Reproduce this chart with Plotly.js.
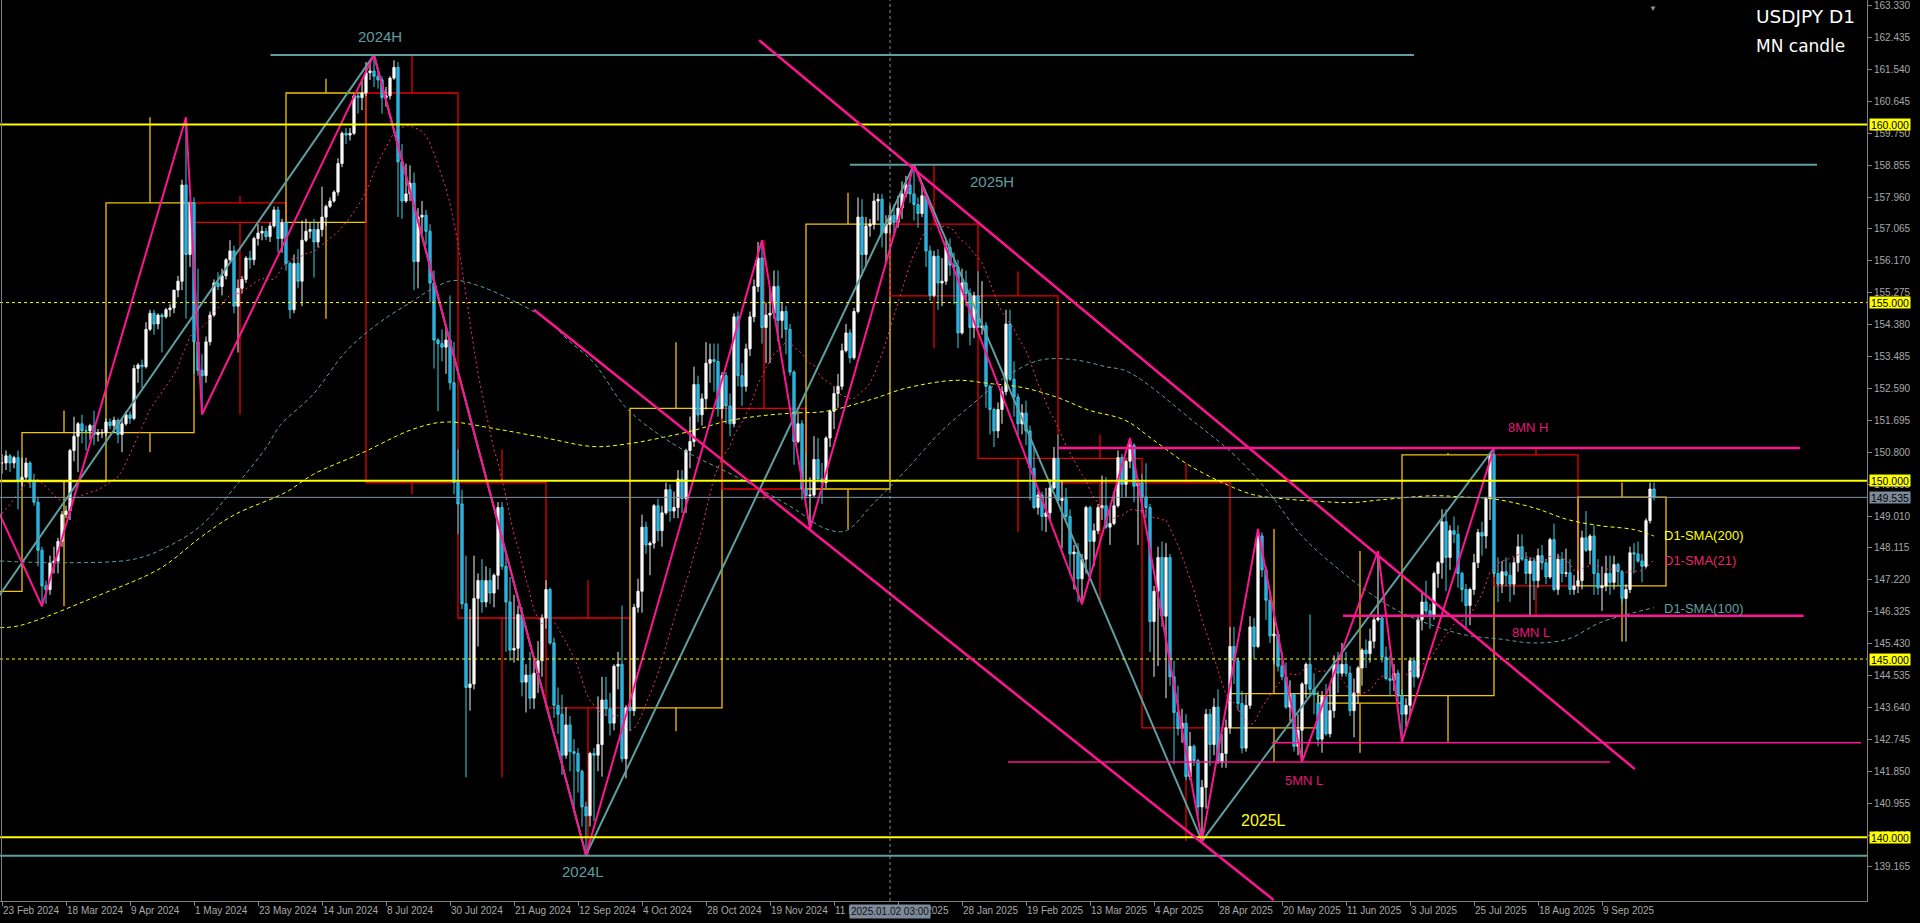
<!DOCTYPE html>
<html><head><meta charset="utf-8">
<script src="https://cdn.plot.ly/plotly-3.0.1.min.js"></script>
<style>html,body{margin:0;padding:0;background:#000;overflow:hidden}#chart{width:1920px;height:923px}</style>
</head><body><div id="chart"></div>
<script>
// ---------- calendar ----------
const firstDate = '2024-02-23';
const lastDate = '2025-09-26';
const holidays = ['2024-12-25', '2025-01-01'];

// ---------- daily USDJPY (one line per week) ----------
const open = [
150.50,
150.50,150.70,150.50,150.65,149.98,
150.10,150.50,150.00,149.40,148.05,
147.05,146.95,147.70,147.75,148.30,
149.05,149.15,150.85,151.25,151.60,
151.40,151.40,151.55,151.30,151.35,
151.35,151.65,151.55,151.70,151.30,
151.60,151.85,151.75,153.15,153.25,
153.20,154.25,154.70,154.40,154.65,
154.60,154.80,154.85,155.35,155.60,
158.30,156.35,157.80,153.90,153.10,
152.95,153.90,154.65,155.55,155.45,
155.75,156.20,156.45,154.90,155.40,
155.65,156.25,156.20,156.80,156.95,
157.00,156.85,157.15,157.60,156.80,
157.25,156.10,154.80,156.10,155.60,
156.75,157.00,157.05,156.70,157.05,
157.40,157.70,157.85,158.10,158.90,
159.75,159.70,159.75,160.80,160.75,
160.88,161.45,161.50,161.35,161.25,
160.75,160.80,161.30,161.60,158.95,
157.85,158.05,158.35,156.15,157.40,
157.45,157.00,155.55,153.95,153.85,
153.75,153.95,152.75,149.95,149.35,
146.55,144.20,144.30,146.70,147.20,
146.60,147.20,146.85,147.35,149.25,
147.60,146.60,145.25,145.30,146.25,
144.35,144.55,143.90,144.60,144.95,
146.15,146.95,145.45,143.70,143.45,
142.30,143.15,142.40,142.35,141.85,
140.85,140.60,142.35,142.30,142.60,
143.85,143.60,143.20,144.80,144.85,
142.20,143.63,143.55,146.45,146.90,
148.70,148.20,148.25,149.30,148.60,
149.10,149.75,149.15,149.25,150.05,
149.50,150.85,151.10,152.70,151.85,
152.30,153.30,153.40,153.35,152.03,
152.95,152.10,151.60,154.60,152.95,
152.65,153.70,154.60,155.45,156.25,
154.30,154.65,154.70,155.45,154.50,
154.75,154.25,153.05,151.10,151.60,
149.77,149.58,149.60,150.60,150.05,
149.95,151.20,151.95,152.45,152.65,
153.65,154.15,153.45,154.75,157.40,
156.35,157.15,157.20,157.85,
157.90,156.95,157.20,157.45,
157.25,157.65,158.05,158.30,158.05,
157.75,157.50,158.00,156.45,155.20,
156.30,155.55,155.60,156.55,156.05,
156.00,154.15,155.55,155.25,154.30,
155.19,154.30,154.35,152.65,152.00,
151.40,152.00,152.50,154.40,152.85,
152.35,151.60,151.90,151.40,150.35,
149.25,149.60,149.00,149.10,149.80,
150.63,149.45,149.50,149.00,147.95,
148.00,147.25,147.80,149.25,148.30,
148.60,149.25,149.30,148.70,148.80,
149.30,150.65,149.90,150.55,151.00,
149.85,149.94,149.55,149.25,146.05,
146.90,147.85,146.20,147.85,144.50,
143.50,143.05,143.20,141.70,142.55,
142.15,140.85,141.40,143.45,142.60,
143.65,142.10,142.35,143.07,145.35,
144.95,143.75,142.50,143.70,145.90,
145.35,148.45,147.50,146.65,145.65,
145.70,144.80,144.50,143.65,144.00,
142.55,143.00,144.30,144.85,144.15,
143.76,142.75,143.95,142.90,143.55,
144.85,144.60,144.85,144.60,143.55,
144.05,144.75,145.25,145.15,145.50,
146.10,146.15,145.05,144.45,144.40,
144.60,143.97,143.45,143.70,144.95,
144.50,146.10,146.60,146.35,146.20,
147.40,147.70,148.85,147.85,148.60,
148.50,147.40,146.95,146.50,146.95,
147.70,148.55,148.45,149.50,150.73,
147.40,147.10,147.45,147.35,147.10,
147.70,148.15,147.80,147.40,147.75,
147.20,147.90,147.70,147.30,148.35,
146.95,147.80,147.40,147.42,146.95,
147.05,147.20,148.40,148.05,148.45,
147.40,147.00,147.05,147.40,147.15,
147.65,147.45,146.70,146.95,147.98,
147.95,147.75,147.60,148.88,149.77
];
const high = [
150.75,
150.85,150.75,150.70,150.85,150.65,
150.65,150.55,150.20,149.55,148.15,
147.20,147.90,148.15,148.40,149.15,
149.30,150.90,151.80,151.65,151.85,
151.55,151.60,151.97,151.45,151.45,
151.75,151.75,151.80,151.75,151.75,
151.95,151.95,153.25,153.30,153.40,
154.45,154.80,154.80,154.70,154.70,
154.85,154.95,155.35,155.75,158.45,
160.20,157.85,157.95,155.95,153.55,
154.05,154.75,155.65,155.85,155.95,
156.25,156.75,156.60,155.65,155.75,
156.30,156.45,156.85,157.20,157.15,
157.10,157.25,157.70,157.70,157.35,
157.30,156.15,156.35,156.50,157.30,
157.35,157.25,157.35,157.25,158.25,
157.75,157.95,158.15,159.05,159.80,
159.90,159.90,160.85,160.85,161.28,
161.75,161.75,161.95,161.50,161.35,
161.05,161.35,161.80,161.75,159.45,
158.90,158.85,158.65,157.65,157.85,
157.60,157.20,155.90,154.00,154.25,
154.30,155.20,153.90,150.88,149.75,
147.90,146.40,147.90,147.40,147.80,
147.60,147.55,147.40,149.40,149.40,
147.95,147.30,146.80,146.50,146.45,
144.85,145.20,145.00,145.50,146.25,
147.21,147.00,145.60,144.20,144.00,
143.65,143.40,142.75,142.50,141.90,
141.00,142.40,142.50,143.95,144.50,
144.50,144.05,144.85,145.20,146.50,
143.70,144.00,146.55,147.25,149.05,
148.85,148.30,149.35,149.50,149.30,
149.95,149.90,149.70,150.30,150.30,
150.90,151.80,153.20,152.95,152.45,
153.89,153.85,153.85,153.85,153.05,
153.05,152.45,154.70,154.75,153.30,
153.85,154.75,155.65,156.70,156.75,
155.00,155.40,155.90,155.90,155.00,
154.90,154.40,153.10,151.95,151.70,
150.75,150.10,151.25,151.20,150.50,
151.25,152.00,152.65,153.00,153.85,
154.40,154.25,154.85,157.95,157.90,
157.40,157.35,158.08,158.05,
158.05,157.45,157.75,157.75,
158.00,158.40,158.55,158.50,158.87,
157.95,158.35,158.10,156.60,156.45,
156.50,156.25,156.75,156.80,156.40,
156.20,155.95,155.90,155.40,155.30,
155.88,155.60,154.45,152.70,152.05,
152.20,152.65,154.80,154.80,153.35,
152.45,152.15,152.25,151.55,150.95,
149.70,149.70,149.80,150.05,150.95,
151.30,150.00,149.80,149.20,148.20,
148.25,147.95,149.30,149.30,148.80,
149.35,150.15,150.10,149.20,149.70,
150.85,150.75,150.60,151.20,151.05,
150.05,150.20,150.49,149.35,147.05,
148.15,148.30,148.25,147.95,144.95,
144.25,143.60,143.45,142.95,142.60,
142.20,141.60,143.60,143.60,143.90,
144.15,142.90,143.30,145.90,145.90,
145.05,144.10,144.00,146.20,146.15,
148.65,148.55,147.60,146.90,146.20,
145.80,145.20,144.90,144.40,144.05,
143.45,144.35,144.90,146.25,144.60,
144.10,144.10,144.30,144.25,145.10,
145.20,145.45,145.20,144.80,144.45,
144.80,145.30,145.55,145.85,146.25,
148.03,146.20,145.35,145.10,144.85,
144.70,144.15,143.90,145.05,145.05,
146.20,146.85,147.20,146.55,147.45,
147.75,149.20,149.20,148.75,149.00,
148.75,147.45,147.10,147.00,147.95,
148.65,148.85,149.55,150.78,150.92,
147.85,147.75,147.85,147.70,147.85,
148.50,148.50,148.00,147.85,147.85,
148.10,148.20,147.80,148.40,148.80,
147.95,148.00,148.10,147.80,147.35,
147.50,148.60,149.15,148.50,148.75,
147.80,147.60,147.90,147.90,147.90,
147.70,147.50,147.10,148.15,148.25,
148.30,147.95,148.95,149.95,149.95
];
const low = [
150.20,
150.30,150.25,150.35,149.20,149.85,
150.00,149.80,149.30,147.60,146.48,
146.55,146.80,147.40,147.40,148.15,
148.95,148.90,150.55,150.25,151.05,
150.85,151.15,151.00,151.10,151.20,
151.25,151.45,151.35,151.05,150.80,
151.55,151.60,151.70,152.75,152.60,
153.15,154.20,154.10,154.25,153.60,
154.55,154.60,154.70,155.15,155.35,
154.55,156.00,153.00,152.95,151.86,
152.75,153.80,154.60,155.35,155.20,
155.65,156.15,154.70,153.60,155.25,
155.55,155.95,156.05,156.60,156.75,
156.75,156.70,157.10,156.40,156.40,
155.90,154.55,154.70,155.40,154.90,
156.70,156.80,155.70,156.55,156.85,
157.15,157.65,157.80,158.00,158.80,
159.45,159.55,159.70,160.30,160.40,
160.80,161.25,161.05,161.00,160.30,
160.50,160.70,161.25,157.40,157.35,
157.80,157.85,155.35,155.40,156.95,
156.60,155.00,153.15,151.95,153.35,
153.00,152.55,149.62,148.50,146.40,
141.68,143.55,144.15,145.35,146.30,
146.45,146.55,146.45,146.95,147.50,
145.20,144.95,144.90,144.95,143.95,
143.50,143.60,143.60,144.05,144.50,
145.85,145.40,143.35,142.90,141.75,
142.20,141.85,140.70,141.25,140.30,
139.50,140.30,140.45,141.85,141.70,
143.40,142.85,143.00,144.15,142.10,
141.65,142.97,143.40,146.30,146.30,
147.95,147.35,148.10,148.30,148.15,
149.05,148.85,148.95,148.95,149.10,
149.10,150.35,150.95,151.65,151.55,
152.00,152.75,152.50,151.80,151.75,
151.60,151.25,151.50,152.65,152.10,
152.50,153.50,154.45,155.30,153.85,
153.30,153.30,154.55,153.90,154.00,
153.55,152.95,150.45,151.05,149.47,
149.50,148.65,149.55,149.95,149.35,
149.80,150.95,151.45,152.05,152.55,
153.60,153.30,153.40,154.70,155.75,
156.05,156.85,157.05,157.30,
156.55,156.15,156.95,156.95,
157.10,157.35,157.95,157.80,157.30,
157.10,157.40,156.00,155.05,155.15,
154.80,154.90,155.50,155.75,154.95,
153.72,154.10,154.90,153.80,154.00,
154.55,154.10,152.05,151.30,150.95,
151.20,151.60,152.40,152.80,151.80,
151.25,151.30,151.00,149.45,149.20,
149.05,148.60,148.56,148.90,149.75,
149.40,148.10,148.90,147.35,146.95,
146.60,146.54,147.40,147.40,147.60,
148.50,148.90,148.65,148.20,148.75,
149.25,149.55,149.55,150.35,149.40,
148.20,149.10,148.95,145.20,144.50,
144.80,145.90,143.90,144.25,142.05,
142.85,142.65,141.60,141.60,142.00,
140.60,139.89,140.80,142.00,142.30,
142.05,141.95,141.95,142.90,144.30,
143.55,142.35,142.40,143.60,145.00,
145.30,147.30,146.10,145.45,144.85,
144.65,144.40,143.60,143.25,142.40,
142.30,142.11,143.90,143.95,143.45,
142.55,142.37,142.85,142.80,143.35,
144.05,144.50,144.50,143.40,142.80,
143.75,144.25,144.75,144.90,145.30,
146.05,144.90,144.40,143.95,144.10,
143.75,142.68,143.10,143.40,144.20,
144.45,145.80,146.25,145.85,146.10,
147.00,147.25,146.90,147.50,148.25,
147.00,146.60,145.85,145.95,146.80,
147.55,147.90,148.10,148.90,147.30,
146.60,146.85,147.05,146.60,146.80,
147.45,147.75,147.10,146.21,146.65,
147.00,147.50,147.10,147.25,146.90,
146.80,147.15,147.30,146.80,146.80,
146.85,146.95,148.00,147.65,146.80,
146.80,146.35,146.90,146.80,146.95,
147.05,146.55,145.49,146.85,147.40,
147.70,147.15,147.55,148.80,149.45
];
const close = [
150.50,
150.70,150.50,150.65,149.98,150.10,
150.50,150.00,149.40,148.05,147.05,
146.95,147.70,147.75,148.30,149.05,
149.15,150.85,151.25,151.60,151.40,
151.40,151.55,151.30,151.35,151.35,
151.65,151.55,151.70,151.30,151.60,
151.85,151.75,153.15,153.25,153.20,
154.25,154.70,154.40,154.65,154.60,
154.80,154.85,155.35,155.60,158.30,
156.35,157.80,153.90,153.10,152.95,
153.90,154.65,155.55,155.45,155.75,
156.20,156.45,154.90,155.40,155.65,
156.25,156.20,156.80,156.95,157.00,
156.85,157.15,157.60,156.80,157.25,
156.10,154.80,156.10,155.60,156.75,
157.00,157.05,156.70,157.05,157.40,
157.70,157.85,158.10,158.90,159.75,
159.70,159.75,160.80,160.75,160.88,
161.45,161.50,161.35,161.25,160.75,
160.80,161.30,161.60,158.95,157.85,
158.05,158.35,156.15,157.40,157.45,
157.00,155.55,153.95,153.85,153.75,
153.95,152.75,149.95,149.35,146.55,
144.20,144.30,146.70,147.20,146.60,
147.20,146.85,147.35,149.25,147.60,
146.60,145.25,145.30,146.25,144.35,
144.55,143.90,144.60,144.95,146.15,
146.95,145.45,143.70,143.45,142.30,
143.15,142.40,142.35,141.85,140.85,
140.60,142.35,142.30,142.60,143.85,
143.60,143.20,144.80,144.85,142.20,
143.63,143.55,146.45,146.90,148.70,
148.20,148.25,149.30,148.60,149.10,
149.75,149.15,149.25,150.05,149.50,
150.85,151.10,152.70,151.85,152.30,
153.30,153.40,153.35,152.03,152.95,
152.10,151.60,154.60,152.95,152.65,
153.70,154.60,155.45,156.25,154.30,
154.65,154.70,155.45,154.50,154.75,
154.25,153.05,151.10,151.60,149.77,
149.58,149.60,150.60,150.05,149.95,
151.20,151.95,152.45,152.65,153.65,
154.15,153.45,154.75,157.40,156.35,
157.15,157.20,157.85,157.90,
156.95,157.20,157.45,157.25,
157.65,158.05,158.30,158.05,157.75,
157.50,158.00,156.45,155.20,156.30,
155.55,155.60,156.55,156.05,156.00,
154.15,155.55,155.25,154.30,155.19,
154.30,154.35,152.65,152.00,151.40,
152.00,152.50,154.40,152.85,152.35,
151.60,151.90,151.40,150.35,149.25,
149.60,149.00,149.10,149.80,150.63,
149.45,149.50,149.00,147.95,148.00,
147.25,147.80,149.25,148.30,148.60,
149.25,149.30,148.70,148.80,149.30,
150.65,149.90,150.55,151.00,149.85,
149.94,149.55,149.25,146.05,146.90,
147.85,146.20,147.85,144.50,143.50,
143.05,143.20,141.70,142.55,142.15,
140.85,141.40,143.45,142.60,143.65,
142.10,142.35,143.07,145.35,144.95,
143.75,142.50,143.70,145.90,145.35,
148.45,147.50,146.65,145.65,145.70,
144.80,144.50,143.65,144.00,142.55,
143.00,144.30,144.85,144.15,144.00,
142.75,143.95,142.90,143.55,144.85,
144.60,144.85,144.60,143.55,144.05,
144.75,145.25,145.15,145.50,146.10,
146.15,145.05,144.45,144.40,144.60,
143.97,143.45,143.70,144.95,144.50,
146.10,146.60,146.35,146.20,147.40,
147.70,148.85,147.85,148.60,148.50,
147.40,146.95,146.50,146.95,147.70,
148.55,148.45,149.50,150.73,147.40,
147.10,147.45,147.35,147.10,147.70,
148.15,147.80,147.40,147.75,147.20,
147.90,147.70,147.30,148.35,146.95,
147.80,147.40,147.42,146.95,147.05,
147.20,148.40,148.05,148.45,147.40,
147.00,147.05,147.40,147.15,147.65,
147.45,146.70,146.95,147.98,147.95,
147.75,147.60,148.88,149.77,149.54
];
// 20 closes before the first visible bar (for SMA21)
const closeBefore = [148.15,147.55,147.60,146.90,146.45,148.35,148.70,148.15,148.10,149.30,
                     149.30,149.35,150.80,150.55,149.95,150.20,150.05,150.00,150.30,150.50];

// ---------- monthly candles (MN candle) ----------
const mnMonth = ['2024-02','2024-03','2024-04','2024-05','2024-06','2024-07','2024-08','2024-09','2024-10','2024-11',
                 '2024-12','2025-01','2025-02','2025-03','2025-04','2025-05','2025-06','2025-07','2025-08','2025-09'];
const mnOpen  = [146.90,149.98,151.35,157.80,157.25,160.88,149.95,146.15,143.63,152.03,149.77,157.20,155.19,150.63,149.94,143.07,143.76,143.97,150.73,147.05];
const mnHigh  = [150.89,151.97,160.20,157.99,161.28,161.95,150.88,147.21,153.89,156.75,158.08,158.87,155.88,151.30,150.49,148.65,148.03,150.78,150.92,149.95];
const mnLow   = [145.90,146.48,150.80,151.86,154.55,149.62,141.68,139.50,142.97,149.47,148.65,153.72,148.56,146.54,139.89,142.11,142.37,142.68,146.21,145.49];
const mnClose = [149.98,151.35,157.80,157.25,160.88,149.95,146.15,143.63,152.03,149.77,157.20,155.19,150.63,149.94,143.07,144.03,143.97,150.73,147.05,149.54];

// ---------- zigzags (date, price) ----------
const pinkZigDate  = ['2024-02-13','2024-03-08','2024-04-29','2024-05-03','2024-07-03','2024-09-16','2024-11-15','2024-12-03',
                      '2025-01-10','2025-03-11','2025-03-27','2025-04-22','2025-05-12','2025-05-27','2025-06-23','2025-07-01','2025-08-01'];
const pinkZigPrice = [150.88,146.48,160.20,151.86,161.95,139.50,156.75,148.65,158.87,146.54,151.20,139.89,148.65,142.11,148.03,142.68,150.92];
const cyanZigDate  = ['2023-12-28','2024-07-03','2024-09-16','2025-01-10','2025-04-22','2025-08-01'];
const cyanZigPrice = [140.25,161.95,139.50,158.87,139.89,150.92];

// ---------- moving averages (bar index, price) ----------
const sma200Idx = [-0.5,4.5,24.5,39.5,49.5,58,71,77.8,90,102.8,111,123.8,136,147.8,156,164.5,172.8,181,189.5,197.8,206,217.8,226,238.5,246.8,255,263.3,271.8,280.8,287.8,296,304.5,312.8,321,329.5,337.8,345,358,366,373,383,391.5,399.5,408,413];
const sma200Val = [145.88,145.94,146.8,147.54,148.4,149.04,149.68,150.18,150.78,151.45,151.65,151.45,151.2,150.96,151.03,151.2,151.41,151.67,151.82,151.9,151.95,152.3,152.6,152.82,152.73,152.62,152.36,151.98,151.7,151.15,150.49,149.98,149.61,149.49,149.42,149.39,149.47,149.58,149.54,149.49,149.24,148.91,148.74,148.63,148.45];
const sma100Idx = [-0.5,16,33,41,49.5,58,66.2,69.5,77.8,86,94.5,102.8,107,112.8,119.5,127.8,136,142,147.8,156,164.5,172.8,181,189.5,197.8,206,211,217.8,226,234.3,242.8,251,259.3,267.8,276,281.5,298.5,308.5,316.8,325,333.3,341.8,349.5,358,366,374.5,383,391.5,399.5,408,413];
const sma100Val = [147.75,147.7,147.8,148.13,148.72,149.79,150.96,151.55,152.43,153.63,154.45,155.05,155.35,155.62,155.46,155.05,154.53,153.9,153.33,152.05,151.28,150.71,150.26,149.77,149.23,148.65,148.6,149.36,150.3,151.33,152.17,152.92,153.38,153.4,153.2,153.06,151.61,150.68,149.66,148.45,147.6,146.86,146.32,145.93,145.67,145.56,145.45,145.56,146.02,146.3,146.44];

// ---------- axis labels ----------
const tickDates = ['2024-02-23','2024-03-18','2024-04-09','2024-05-01','2024-05-23','2024-06-14','2024-07-08','2024-07-30','2024-08-21','2024-09-12',
                   '2024-10-04','2024-10-28','2024-11-19','2024-12-11','2025-01-06','2025-01-28','2025-02-19','2025-03-13','2025-04-04','2025-04-28',
                   '2025-05-20','2025-06-11','2025-07-03','2025-07-25','2025-08-18','2025-09-09'];
const tickLabels = ['23 Feb 2024','18 Mar 2024','9 Apr 2024','1 May 2024','23 May 2024','14 Jun 2024','8 Jul 2024','30 Jul 2024','21 Aug 2024','12 Sep 2024',
                    '4 Oct 2024','28 Oct 2024','19 Nov 2024','11 Dec 2024','6 Jan 2025','28 Jan 2025','19 Feb 2025','13 Mar 2025','4 Apr 2025','28 Apr 2025',
                    '20 May 2025','11 Jun 2025','3 Jul 2025','25 Jul 2025','18 Aug 2025','9 Sep 2025'];
const priceTicks = [139.165,140.060,140.955,141.850,142.745,143.640,144.535,145.430,146.325,147.220,148.115,149.010,149.905,150.800,
                    151.695,152.590,153.485,154.380,155.275,156.170,157.065,157.960,158.855,159.750,160.645,161.540,162.435,163.330];

// ---------- helpers ----------
const DAY = 86400000;
function parse(s){const p=s.split('-').map(Number);return Date.UTC(p[0],p[1]-1,p[2]||1);}
function isTrading(t){const d=new Date(t);const w=d.getUTCDay();if(w===0||w===6)return false;return !holidays.includes(d.toISOString().slice(0,10));}
const base = parse(firstDate);
function tIdx(s){const t=parse(s);let n=0;
  if(t>=base){for(let u=base;u<t;u+=DAY) if(isTrading(u)) n++; return n;}
  for(let u=t;u<base;u+=DAY) if(isTrading(u)) n++; return -n;}
const dates=[];for(let u=base;u<=parse(lastDate);u+=DAY) if(isTrading(u)) dates.push(new Date(u).toISOString().slice(0,10));
if(dates.length!==close.length) console.error('length mismatch', dates.length, close.length, open.length, high.length, low.length);
const xi = dates.map((d,i)=>i);

const allC = closeBefore.concat(close);
const sma21 = close.map((c,i)=>{let s=0;for(let k=i;k<=i+20;k++) s+=allC[k];return s/21;});

// ---------- colours ----------
const YEL='#ffff00', CAD='#5f9ea0', PINK='#ff1493', GOLD='#f5c400', RED='#e60000', AX='#a8a8a8';

const shapes=[];
// monthly boxes
mnMonth.forEach((m,i)=>{
  const y=+m.slice(0,4), mo=+m.slice(5,7);
  const next = mo===12 ? (y+1)+'-01-01' : y+'-'+String(mo+1).padStart(2,'0')+'-01';
  const x0=tIdx(m+'-01'), x1=tIdx(next), xm=(x0+x1)/2;
  const col = mnClose[i]>=mnOpen[i] ? GOLD : RED;
  shapes.push({type:'rect',xref:'x',yref:'y',x0:x0,x1:x1,y0:mnOpen[i],y1:mnClose[i],line:{color:col,width:1.3},fillcolor:'rgba(0,0,0,0)',layer:'below'});
  shapes.push({type:'line',xref:'x',yref:'y',x0:xm,x1:xm,y0:Math.max(mnOpen[i],mnClose[i]),y1:mnHigh[i],line:{color:col,width:1.3},layer:'below'});
  shapes.push({type:'line',xref:'x',yref:'y',x0:xm,x1:xm,y0:Math.min(mnOpen[i],mnClose[i]),y1:mnLow[i],line:{color:col,width:1.3},layer:'below'});
});
function hline(p,col,w,dash){shapes.push({type:'line',xref:'paper',yref:'y',x0:0,x1:1,y0:p,y1:p,line:{color:col,width:w,dash:dash||'solid'},layer:'above'});}
function seg(x0,y0,x1,y1,col,w){shapes.push({type:'line',xref:'x',yref:'y',x0:x0,x1:x1,y0:y0,y1:y1,line:{color:col,width:w},layer:'above'});}
hline(160,YEL,2); hline(155,YEL,1,'3px,3px'); hline(150,YEL,2); hline(145,YEL,1,'3px,3px'); hline(140,YEL,2);
hline(149.535,'#8493a3',1); hline(139.48,CAD,2);
seg(67.1,161.95,353,161.95,CAD,2);      // 2024H
seg(212,158.87,453.75,158.87,CAD,2);    // 2025H
seg(264,150.92,449.5,150.92,PINK,2.5);  // 8MN H
seg(335.25,146.21,450.4,146.21,PINK,2.5);// 8MN L
seg(317.4,142.65,464.75,142.65,PINK,1.5);
seg(251.5,142.11,402,142.11,PINK,1.5);  // 5MN L
seg(189.3,162.36,408.2,141.91,PINK,2.5); // upper trend line
seg(133,154.80,317.9,138.24,PINK,2.5);   // lower trend line
// crosshair
shapes.push({type:'line',xref:'x',yref:'paper',x0:222,x1:222,y0:0,y1:1,line:{color:'#8a8a8a',width:1,dash:'dot'},layer:'above'});
shapes.push({type:'line',xref:'paper',yref:'paper',x0:0.0008,x1:0.0008,y0:0,y1:1,line:{color:'#808080',width:1}});

const traces=[
  {type:'scatter',mode:'lines',x:sma200Idx,y:sma200Val,line:{color:YEL,width:1,dash:'4px,3px',shape:'spline'},hoverinfo:'skip'},
  {type:'scatter',mode:'lines',x:sma100Idx,y:sma100Val,line:{color:CAD,width:1,dash:'4px,3px',shape:'spline'},hoverinfo:'skip'},
  {type:'scatter',mode:'lines',x:xi,y:sma21,line:{color:'#ff2f6e',width:1,dash:'2px,3px'},hoverinfo:'skip'},
  {type:'candlestick',x:xi,open:open,high:high,low:low,close:close,whiskerwidth:0,hoverinfo:'skip',
   increasing:{line:{color:'#f2f2f2',width:1},fillcolor:'#ffffff'},
   decreasing:{line:{color:'#38d0e0',width:1},fillcolor:'#2196f3'}},
  {type:'scatter',mode:'lines',x:cyanZigDate.map(tIdx),y:cyanZigPrice,line:{color:CAD,width:2},hoverinfo:'skip'},
  {type:'scatter',mode:'lines',x:pinkZigDate.map(tIdx),y:pinkZigPrice,line:{color:PINK,width:2},hoverinfo:'skip'}
];

const F='Liberation Sans';
const ann=[];
function txt(x,y,t,col,size,xa){ann.push({xref:'x',yref:'y',x:x,y:y,text:t,showarrow:false,font:{family:F,size:size,color:col},xanchor:xa||'center',yanchor:'middle'});}
txt(94.4,162.46,'2024H',CAD,15); txt(247.5,158.4,'2025H',CAD,15); txt(145.2,139.03,'2024L',CAD,15);
txt(315.4,140.47,'2025L',YEL,16);
txt(381.5,151.5,'8MN H','#e0187a',13); txt(382.3,145.73,'8MN L','#e0187a',13); txt(325.5,141.58,'5MN L','#e0187a',13);
txt(414.9,148.46,'D1-SMA(200)',YEL,13,'left'); txt(414.9,147.76,'D1-SMA(21)','#e8286e',13,'left'); txt(414.9,146.42,'D1-SMA(100)',CAD,13,'left');
ann.push({xref:'paper',yref:'paper',x:1754/1867,y:1-17/901,text:'USDJPY D1',showarrow:false,xanchor:'left',yanchor:'middle',font:{family:'DejaVu Sans',size:18.5,color:'#ffffff'}});
ann.push({xref:'paper',yref:'paper',x:1754/1867,y:1-46/901,text:'MN candle',showarrow:false,xanchor:'left',yanchor:'middle',font:{family:'DejaVu Sans',size:17,color:'#ffffff'}});
// price tags on the axis
function tag(p,t,bg){ann.push({xref:'paper',yref:'y',x:1869/1867,y:p,text:t,showarrow:false,xanchor:'left',yanchor:'middle',bgcolor:bg,borderpad:0,width:40,height:11,font:{family:F,size:10.5,color:'#000'}});}
tag(160,'160.000',YEL); tag(155,'155.000',YEL); tag(150,'150.000',YEL); tag(145,'145.000',YEL); tag(140,'140.000',YEL);
tag(149.535,'149.535','#7d8a99');
ann.push({xref:'x',yref:'paper',x:222,y:-11/901,text:'2025.01.02 03:00',showarrow:false,xanchor:'center',yanchor:'middle',bgcolor:'#7d8a99',borderpad:1,font:{family:F,size:10,color:'#111'}});
ann.push({xref:'x',yref:'paper',x:412.75,y:1,text:'▼',showarrow:false,xanchor:'center',yanchor:'top',font:{size:8,color:'#909090'}});

const layout={
  width:1920,height:923,paper_bgcolor:'#000',plot_bgcolor:'#000',
  margin:{l:0,r:53,t:0,b:22,pad:0},showlegend:false,boxgap:0.45,boxgroupgap:0,
  xaxis:{range:[-0.5,466.25],tickvals:tickDates.map(tIdx),ticktext:tickLabels,ticks:'outside',ticklen:4,tickcolor:'#808080',tickangle:0,
         showline:true,linecolor:'#808080',linewidth:1,showgrid:false,zeroline:false,ticklabelposition:'outside right',
         tickfont:{family:F,size:10,color:AX},rangeslider:{visible:false},fixedrange:true},
  yaxis:{side:'right',range:[138.21,163.49],tickvals:priceTicks,ticktext:priceTicks.map(v=>v.toFixed(3)),ticks:'outside',ticklen:4,
         tickcolor:'#808080',showline:true,linecolor:'#808080',linewidth:1,showgrid:false,zeroline:false,
         tickfont:{family:F,size:10,color:AX},fixedrange:true},
  shapes:shapes,annotations:ann
};
Plotly.newPlot('chart',traces,layout,{displayModeBar:false,staticPlot:true});
</script></body></html>
